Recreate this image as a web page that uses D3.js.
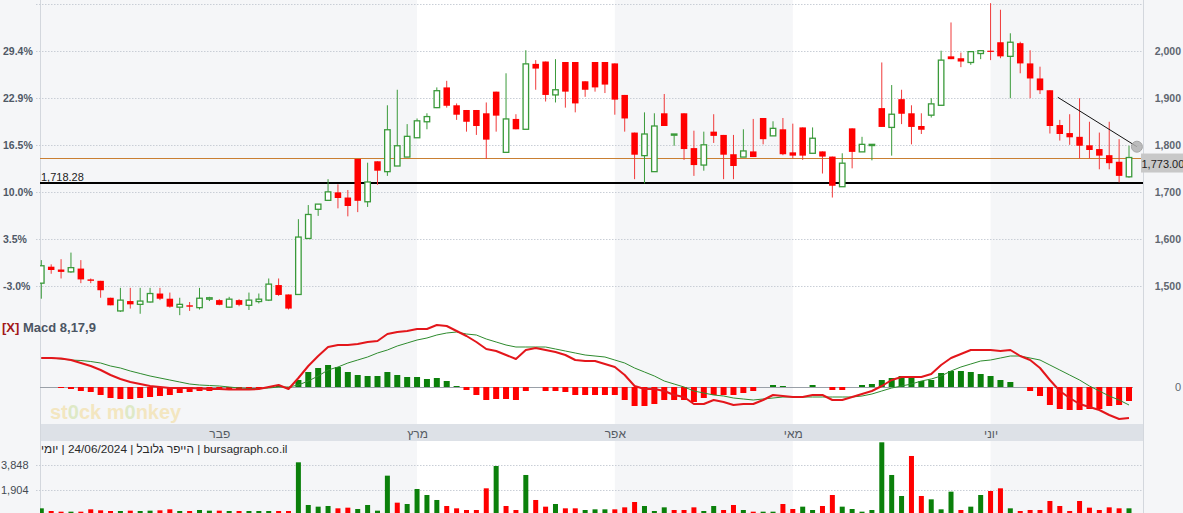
<!DOCTYPE html>
<html>
<head>
<meta charset="utf-8">
<script src="https://cdn.jsdelivr.net/npm/d3@7"></script>
<style>
  html, body { margin: 0; padding: 0; background: #f5f6f8; }
  svg { display: block; font-family: "Liberation Sans", Arial, sans-serif; }
</style>
</head>
<body>
<svg id="chart" width="1183" height="513"></svg>
<script>
// Daily sessions (dd/mm, 2024)
const dates = [
  "08/01","09/01","10/01","11/01","14/01","15/01","16/01","17/01","18/01","21/01","22/01","23/01","24/01","25/01","28/01","29/01","30/01","31/01",
  "01/02","04/02","05/02","06/02","07/02","08/02","11/02","12/02","13/02","14/02","15/02","18/02","19/02","20/02","21/02","22/02","25/02","26/02","28/02","29/02",
  "03/03","04/03","05/03","06/03","07/03","10/03","11/03","12/03","13/03","14/03","17/03","18/03","19/03","20/03","21/03","25/03","26/03","27/03","28/03","31/03",
  "01/04","02/04","03/04","04/04","07/04","08/04","09/04","10/04","11/04","14/04","15/04","16/04","17/04","18/04","21/04","24/04","25/04","30/04",
  "01/05","02/05","05/05","06/05","07/05","08/05","09/05","12/05","15/05","16/05","19/05","20/05","21/05","22/05","23/05","26/05","27/05","28/05","29/05","30/05",
  "02/06","03/06","04/06","05/06","06/06","09/06","10/06","13/06","16/06","17/06","18/06","19/06","20/06","23/06","24/06"
];

const open = [
  1506,1541,1535,1530,1537,1514,1511,1475,1447,1468,
  1461,1466,1484,1473,1455,1459,1454,1472,1470,1455,
  1470,1459,1467,1470,1502,1482,1482,1601,1663,1682,
  1699,1688,1770,1679,1765,1743,1755,1774,1815,1849,
  1879,1922,1884,1874,1874,1867,1913,1784,1855,1833,
  1972,1977,1906,1976,1976,1935,1976,1976,1973,1906,
  1826,1777,1743,1867,1822,1867,1793,1757,1828,1821,
  1780,1774,1786,1857,1819,1833,1784,1837,1782,1786,
  1775,1711,1835,1785,1800,1878,1837,1897,1867,1840,
  1863,1884,1988,1984,1975,1994,2000,2018,1988,2016,
  1973,1941,1916,1842,1825,1817,1799,1791,1778,1764,
  1732
];
const high = [
  1555,1546,1557,1571,1555,1516,1511,1475,1496,1496,
  1496,1496,1496,1486,1475,1466,1496,1477,1472,1477,
  1472,1486,1484,1516,1516,1482,1642,1672,1674,1727,
  1716,1704,1770,1762,1765,1884,1917,1844,1856,1867,
  1922,1936,1888,1874,1874,1890,1913,1952,1865,2001,
  1980,1977,1982,1976,1976,1935,1976,1976,1973,1906,
  1826,1869,1867,1908,1823,1867,1830,1828,1865,1821,
  1821,1833,1855,1857,1850,1857,1845,1837,1837,1786,
  1775,1782,1835,1817,1801,1975,1927,1917,1884,1867,
  1899,2000,2060,1996,1998,2000,2101,2087,2037,2019,
  2001,1966,1916,1853,1865,1899,1849,1826,1849,1812,
  1798
];
const low = [
  1473,1526,1516,1528,1506,1506,1475,1459,1445,1452,
  1441,1465,1470,1454,1438,1447,1450,1468,1459,1454,
  1457,1449,1463,1468,1479,1450,1482,1601,1649,1681,
  1665,1648,1657,1668,1715,1734,1755,1774,1815,1833,
  1878,1879,1853,1828,1821,1770,1828,1784,1833,1833,
  1917,1892,1890,1879,1869,1902,1913,1910,1864,1828,
  1727,1718,1743,1840,1798,1768,1734,1745,1804,1727,
  1727,1774,1774,1801,1819,1778,1771,1768,1782,1739,
  1688,1711,1750,1785,1767,1838,1777,1844,1801,1823,
  1858,1884,1982,1965,1970,1982,1980,1984,1899,1952,
  1899,1908,1824,1809,1800,1771,1771,1748,1748,1720,
  1730
];
const close = [
  1543,1534,1530,1539,1514,1511,1491,1459,1470,1461,
  1468,1484,1473,1456,1461,1456,1474,1475,1460,1472,
  1460,1470,1472,1504,1481,1452,1604,1652,1674,1700,
  1687,1670,1681,1721,1745,1832,1798,1818,1851,1860,
  1915,1883,1864,1849,1840,1811,1862,1855,1833,1972,
  1962,1906,1917,1913,1888,1917,1922,1928,1896,1856,
  1779,1823,1840,1840,1823,1791,1757,1800,1819,1779,
  1755,1787,1774,1812,1835,1780,1777,1777,1814,1775,
  1713,1761,1785,1801,1801,1838,1865,1866,1838,1832,
  1887,1980,1982,1977,1998,2000,1998,1988,2018,1973,
  1941,1916,1840,1823,1816,1798,1789,1777,1761,1734,
  1773
];
const volume = [
  480,272,220,220,220,402,324,272,272,298,
  272,298,324,402,272,272,350,298,298,272,
  272,272,272,272,272,272,4057,739,609,661,
  480,531,428,739,298,3019,920,816,1983,1516,
  1128,661,480,350,350,2035,3771,661,350,3072,
  1128,609,816,480,480,350,402,402,402,557,
  972,661,272,557,350,350,557,272,661,350,
  739,350,220,220,220,816,428,609,350,661,
  1516,609,428,220,350,5612,3072,1439,4549,1439,
  1179,402,1775,350,609,1516,1827,2035,480,272,
  350,350,1050,661,272,1050,531,350,557,480,
  480
];

// MACD 8,17,9
const macdLine = [
  29,29,28.5,27,24,21,17,12,8,5,
  3,1,0,-1,-1,-1,-1.5,-2,-2,-2.5,
  -2.5,-2.5,-2,0,2,-2,9,21,31,40,
  42,42,43,45,46,53,55,56,58,58,
  62,61,56,51,45,38,36,32,28,37,
  39,37,35,32,27,26,26,23,20,12,
  1,-2,-2,-4,-8,-10,-17,-17,-13,-15,
  -18,-17,-17,-13,-8,-9,-10,-10,-8,-8,
  -13,-13,-10,-7,-4,1,7,10,10,10,
  13,22,29,33,37,37,37,36,37,31,
  27,19,7,-4,-11,-17,-20,-23,-28,-32,
  -31
];
const signalLine = [
  29,29,28,27,26.5,25.5,24,21,19,16,
  13.5,11,9,7,5,3,2,1.5,1,0,
  -1,-1.5,-1.5,-1,0,0,2,6,11,17,
  20,24,27,30,34,37,41,44,47,49,
  52,54,55,53,52,48,45,42,40,40,
  40,40,38,36,34,32,31,30,27,24,
  19,15,11,6,3,0,-4,-6,-8,-9,
  -11,-12,-13,-12,-11,-10,-10,-10,-10,-10,
  -10,-10,-10,-9,-7,-4,-1,1,3,6,
  8,11,16,20,23,26,27,29,31,31,
  29,27,22,17,12,7,1,-4,-9,-13,
  -18
];
const macdHist = [
  0,0,-1,-2,-4,-5,-8,-11,-12,-12,
  -11,-10,-9,-8,-6,-5,-4,-4,-3,-3,
  -3,-3,-2,-1,1,-1,7,15,19,22,
  20,15,12,11,11,15,12,10,10,8,
  9,6,1,-3,-8,-13,-12,-12,-13,-4,
  0,-4,-4,-5,-8,-8,-8,-8,-8,-13,
  -19,-19,-17,-13,-13,-13,-15,-11,-8,-8,
  -8,-6,-4,0,2,1,0,0,2,0,
  -3,-3,0,2,3,7,9,11,10,6,
  7,14,16,16,15,13,11,7,5,0,
  -4,-9,-18,-22,-23,-23,-22,-22,-19,-18,
  -14
];

const priceTicks = [1500, 1600, 1700, 1800, 1900, 2000, 2100];
const pctLabels = ["-3.0%", "3.5%", "10.0%", "16.5%", "22.9%", "29.4%"];
const volumeTicks = [1904, 3848];
const monthNames = { "02": "פבר", "03": "מרץ", "04": "אפר", "05": "מאי", "06": "יוני" };
const lightMonths = ["03", "05"];
const lastPrice = 1773;
const supportLevel = 1718.28;
const trendLine = [{ i: 102.8, p: 1901 }, { i: 110.8, p: 1796 }];
const infoText = "bursagraph.co.il | הייפר גלובל | 24/06/2024 | יומי";

// ---------- layout ----------
const W = 1183, H = 513, L = 40, R = 1143;
const n = dates.length;
const svg = d3.select("#chart");

const x = d3.scaleLinear().domain([0, n - 1]).range([41.3, 1129]);
const yP = d3.scaleLinear().domain([1500, 2000]).range([286, 50.7]);
const yM = d3.scaleLinear().domain([-37, 69]).range([424, 318]);
const yV = d3.scaleLinear().domain([0, 3848]).range([514.5, 465]);
const crisp = v => Math.round(v) + 0.5;

const GREEN = "#3a9a3a", RED = "#ff0000", BAR_GREEN = "#0b800b";

// background
svg.append("rect").attr("width", W).attr("height", H).attr("fill", "#f5f6f8");

// month shading
const monthOf = d => d.slice(3);
const monthStarts = d3.range(1, n).filter(i => monthOf(dates[i]) !== monthOf(dates[i - 1]));
const segStarts = [0, ...monthStarts];
const segs = segStarts.map((s, k) => ({
  m: monthOf(dates[s]),
  x0: k === 0 ? L : x(s),
  x1: k === segStarts.length - 1 ? R : x(segStarts[k + 1])
}));
const bandG = svg.append("g");
[[0, 424], [441, 513]].forEach(([t, b]) => {
  bandG.selectAll(null).data(segs.filter(s => lightMonths.includes(s.m))).join("rect")
    .attr("x", s => s.x0).attr("width", s => s.x1 - s.x0)
    .attr("y", t).attr("height", b - t).attr("fill", "#ffffff");
});

// time axis strip
svg.append("rect").attr("x", L).attr("y", 424).attr("width", R - L).attr("height", 17).attr("fill", "#dde1e7");

// frame lines
[L, R].forEach(v => svg.append("line").attr("x1", v + 0.5).attr("x2", v + 0.5).attr("y1", 0).attr("y2", H)
  .attr("stroke", "#d3d7dd").attr("stroke-width", 1));

// grid lines
const grid = svg.append("g").attr("stroke", "#c9ced6").attr("stroke-width", 1).attr("stroke-dasharray", "1.5,1.5");
grid.selectAll(null).data(priceTicks).join("line")
  .attr("x1", 36).attr("x2", R).attr("y1", d => crisp(yP(d))).attr("y2", d => crisp(yP(d)));
grid.selectAll(null).data(volumeTicks).join("line")
  .attr("x1", 36).attr("x2", R).attr("y1", d => crisp(yV(d))).attr("y2", d => crisp(yV(d)));

// clip regions
const defs = svg.append("defs");
defs.append("clipPath").attr("id", "clipMain").append("rect").attr("x", L).attr("y", 0).attr("width", R - L).attr("height", 316);
defs.append("clipPath").attr("id", "clipMacd").append("rect").attr("x", L).attr("y", 316).attr("width", R - L).attr("height", 108);
defs.append("clipPath").attr("id", "clipVol").append("rect").attr("x", L).attr("y", 442).attr("width", R - L).attr("height", 71);

// ---------- axes ----------
function styleAxis(g) {
  g.attr("font-family", null).attr("font-size", null);
  g.select(".domain").remove();
  g.selectAll(".tick line").remove();
}
const gLeft = svg.append("g").attr("transform", `translate(${L},0)`)
  .call(d3.axisLeft(yP).tickValues(priceTicks.slice(0, pctLabels.length)).tickFormat((d, i) => pctLabels[i]).tickSize(0));
styleAxis(gLeft);
gLeft.selectAll("text").attr("x", 3 - L).attr("text-anchor", "start").attr("fill", "#4f5866")
  .attr("font-weight", "bold").style("font-size", "10.5px");

const gRight = svg.append("g").attr("transform", `translate(${R},0)`)
  .call(d3.axisRight(yP).tickValues(priceTicks.slice(0, 6)).tickFormat(d3.format(",")).tickSize(0));
styleAxis(gRight);
gRight.selectAll("text").attr("x", 1181 - R).attr("text-anchor", "end").attr("fill", "#5f6670")
  .attr("font-weight", "bold").style("font-size", "10.5px");

const gVol = svg.append("g").attr("transform", `translate(${L},0)`)
  .call(d3.axisLeft(yV).tickValues(volumeTicks).tickFormat(d3.format(",")).tickSize(0));
styleAxis(gVol);
gVol.selectAll("text").attr("x", 1 - L).attr("text-anchor", "start").attr("fill", "#444a52").style("font-size", "11px");

const gZero = svg.append("g").attr("transform", `translate(${R},0)`)
  .call(d3.axisRight(yM).tickValues([0]).tickSize(0));
styleAxis(gZero);
gZero.selectAll("text").attr("x", 1181 - R).attr("text-anchor", "end").attr("fill", "#5f6670").style("font-size", "11px");

const gTime = svg.append("g").attr("transform", "translate(0,424)")
  .call(d3.axisBottom(x).tickValues(monthStarts).tickFormat(i => monthNames[monthOf(dates[i])]).tickSize(0).tickPadding(5));
styleAxis(gTime);
gTime.selectAll("text").attr("fill", "#555b63").style("font-size", "12px");

// ---------- price panel ----------
const main = svg.append("g").attr("clip-path", "url(#clipMain)");

main.append("line").attr("x1", L).attr("x2", R).attr("y1", crisp(yP(lastPrice))).attr("y2", crisp(yP(lastPrice)))
  .attr("stroke", "#c97f32").attr("stroke-width", 1);
main.append("line").attr("x1", L).attr("x2", R).attr("y1", Math.round(yP(supportLevel))).attr("y2", Math.round(yP(supportLevel)))
  .attr("stroke", "#000").attr("stroke-width", 2);
svg.append("text").attr("x", 41).attr("y", yP(supportLevel) - 2.5).attr("fill", "#222").style("font-size", "11px")
  .text(d3.format(",.2f")(supportLevel));

const idx = d3.range(n);
const up = i => close[i] >= open[i];

main.append("g").selectAll("line").data(idx).join("line")
  .attr("x1", i => x(i)).attr("x2", i => x(i))
  .attr("y1", i => yP(high[i])).attr("y2", i => yP(low[i]))
  .attr("stroke", i => up(i) ? GREEN : "#f03a3a").attr("stroke-width", 1);

main.append("g").selectAll("rect").data(idx).join("rect")
  .attr("x", i => up(i) ? x(i) - 2.75 : x(i) - 3.25)
  .attr("width", i => up(i) ? 5.5 : 6.5)
  .attr("y", i => yP(Math.max(open[i], close[i])))
  .attr("height", i => Math.max(1.2, Math.abs(yP(open[i]) - yP(close[i]))))
  .attr("fill", i => up(i) ? "#ffffff" : RED)
  .attr("stroke", i => up(i) ? GREEN : "none")
  .attr("stroke-width", 1.3);

// trend line
main.append("line")
  .attr("x1", x(trendLine[0].i)).attr("y1", yP(trendLine[0].p))
  .attr("x2", x(trendLine[1].i)).attr("y2", yP(trendLine[1].p))
  .attr("stroke", "#111").attr("stroke-width", 1);
svg.append("circle").attr("cx", x(trendLine[1].i)).attr("cy", yP(trendLine[1].p)).attr("r", 5.5)
  .attr("fill", "#b3b3b3").attr("stroke", "#999").attr("stroke-width", 1).attr("opacity", 0.85);

// last price tag
svg.append("rect").attr("x", 1141).attr("y", yP(lastPrice) - 4).attr("width", 42).attr("height", 19).attr("fill", "#c8c8c8");
svg.append("text").attr("x", 1141.5).attr("y", yP(lastPrice) + 10).attr("fill", "#222").style("font-size", "11px")
  .text(d3.format(",.2f")(lastPrice));

// ---------- MACD panel ----------
const wm = svg.append("text").attr("x", 50).attr("y", 419).attr("font-weight", "bold").style("font-size", "20px")
  .attr("fill", "#f2dc9c").attr("opacity", 0.6);
["st", "0", "ck m", "0", "nkey"].forEach(s => wm.append("tspan").text(s).attr("fill", s === "0" ? "#cfe2a6" : null));

const macdG = svg.append("g").attr("clip-path", "url(#clipMacd)");
macdG.append("line").attr("x1", L).attr("x2", 1133).attr("y1", crisp(yM(0))).attr("y2", crisp(yM(0)))
  .attr("stroke", "#9aa0a8").attr("stroke-width", 1);
macdG.append("g").selectAll("rect").data(idx.filter(i => macdHist[i] !== 0)).join("rect")
  .attr("x", i => x(i) - 3).attr("width", 6)
  .attr("y", i => Math.min(yM(0), yM(macdHist[i])))
  .attr("height", i => Math.abs(yM(macdHist[i]) - yM(0)))
  .attr("fill", i => macdHist[i] > 0 ? BAR_GREEN : RED);
const lineGen = arr => d3.line().x(i => x(i)).y(i => yM(arr[i]))(idx);
macdG.append("path").attr("d", lineGen(signalLine)).attr("fill", "none").attr("stroke", "#2e8b2e").attr("stroke-width", 1);
macdG.append("path").attr("d", lineGen(macdLine)).attr("fill", "none").attr("stroke", "#e3161b").attr("stroke-width", 2)
  .attr("stroke-linejoin", "round");

const title = svg.append("text").attr("x", 2).attr("y", 332).attr("font-weight", "bold").style("font-size", "13px");
title.append("tspan").text("[X]").attr("fill", "#a31818");
title.append("tspan").text(" Macd 8,17,9").attr("fill", "#4b5563");

// ---------- volume panel ----------
const volG = svg.append("g").attr("clip-path", "url(#clipVol)");
volG.selectAll("rect").data(idx).join("rect")
  .attr("x", i => x(i) - 2.5).attr("width", 5)
  .attr("y", i => yV(volume[i])).attr("height", i => yV(0) - yV(volume[i]))
  .attr("fill", i => (i === 0 ? close[i] >= open[i] : close[i] >= close[i - 1]) ? BAR_GREEN : RED);

const info = svg.append("text").attr("x", 41).attr("y", 453).attr("fill", "#2a2a2a")
  .attr("direction", "rtl").style("unicode-bidi", "embed").style("font-size", "11.8px")
  .text(infoText);
const bb = info.node().getBBox();
info.attr("x", 41 + (41 - bb.x));
</script>
</body>
</html>
